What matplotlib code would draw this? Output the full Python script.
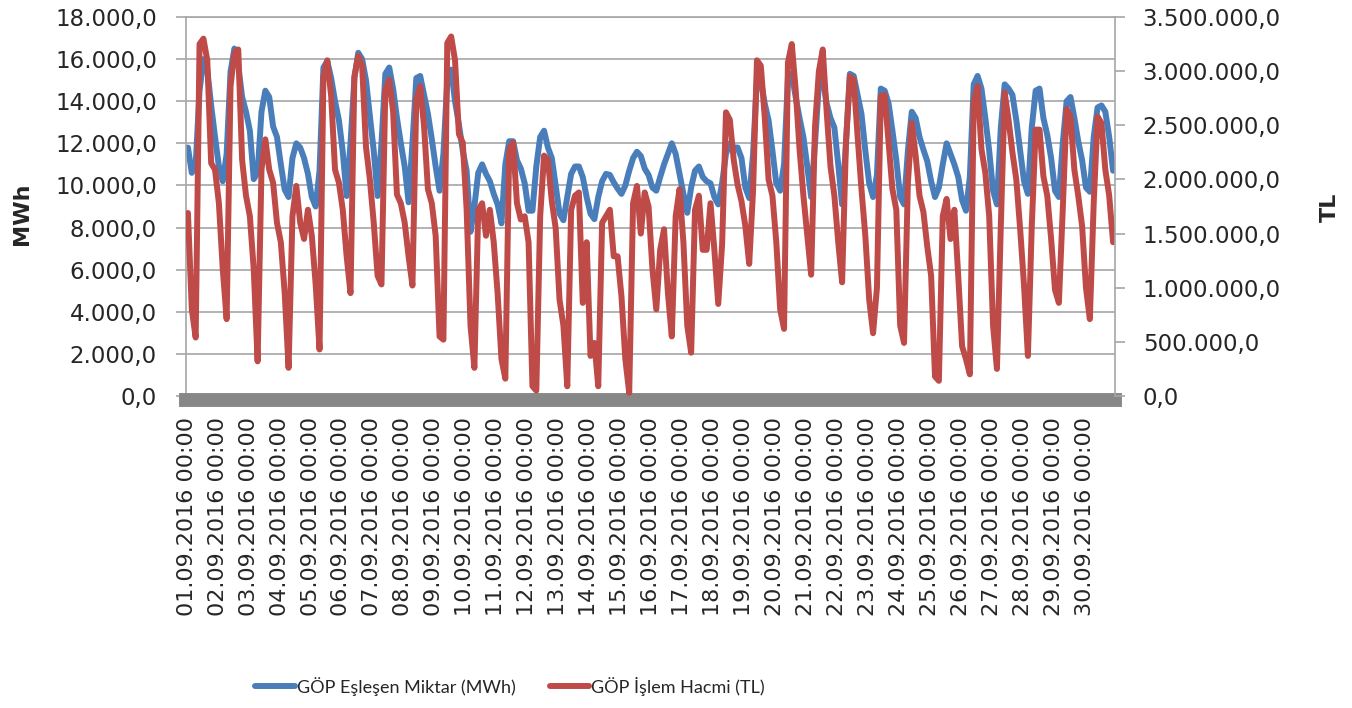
import numpy as np
import matplotlib
matplotlib.use("Agg")
import matplotlib.pyplot as plt
from matplotlib.ticker import FuncFormatter

# =============================================================================
# data (september 2016, every 3rd hour, h = 1,4,...,22)
# =============================================================================
day_labels = ["%02d.09.2016 00:00" % d for d in range(1, 31)]
hours_of_day = [1, 4, 7, 10, 13, 16, 19, 22]

# GÖP Eşleşen Miktar (MWh)
mwh = [
    11800, 10600, 11000, 14500, 16000, 15500, 13800, 12300,   # 01.09
    10900, 10200, 11500, 15400, 16500, 15700, 14200, 13500,   # 02.09
    12600, 10300, 10600, 13500, 14500, 14200, 12800, 12300,   # 03.09
    11000,  9800,  9450, 11300, 12000, 11800, 11300, 10550,   # 04.09
     9450,  9000, 10700, 15600, 15900, 15100, 14000, 13100,   # 05.09
    11600,  9500, 12000, 15100, 16300, 16000, 15000, 13300,   # 06.09
    11650,  9500, 12000, 15300, 15600, 14600, 13200, 12000,   # 07.09
    10900,  9200, 12000, 15100, 15200, 14300, 13400, 12200,   # 08.09
    10900,  9750, 11500, 15000, 15500, 14000, 12900, 11650,   # 09.09
    10700,  7800,  9000, 10600, 11000, 10550, 10200,  9600,   # 10.09
     9100,  8200, 11000, 12100, 12100, 11200, 10800, 10100,   # 11.09
     8800,  8800, 10900, 12300, 12600, 11800, 11300, 10000,   # 12.09
     8660,  8350,  9450, 10550, 10900, 10900, 10400,  9450,   # 13.09
     8660,  8400,  9450, 10200, 10550, 10500, 10150,  9850,   # 14.09
     9600, 10000, 10700, 11300, 11600, 11400, 10800, 10500,   # 15.09
     9900,  9750, 10400, 11000, 11500, 12000, 11500, 10550,   # 16.09
     9600,  8700,  9900, 10700, 10900, 10400, 10200, 10100,   # 17.09
     9450,  9100, 10100, 11500, 12000, 11800, 11800, 11300,   # 18.09
     9900,  9400, 11500, 15100, 15000, 13900, 13100, 11650,   # 19.09
    10100,  9750, 11000, 15100, 15300, 14200, 13200, 12300,   # 20.09
    10900,  9450, 12000, 14800, 15100, 13900, 13200, 12750,   # 21.09
    11000,  9100, 12000, 15300, 15200, 14300, 13400, 11650,   # 22.09
    10100,  9450, 10500, 14600, 14500, 13900, 12600, 11200,   # 23.09
     9450,  9100, 11650, 13500, 13200, 12300, 11700, 11150,   # 24.09
    10200,  9450,  9900, 11000, 12000, 11500, 11000, 10400,   # 25.09
     9300,  8800, 10400, 14800, 15200, 14600, 13200, 11650,   # 26.09
     9750,  9100, 12750, 14800, 14600, 14300, 13100, 11650,   # 27.09
    10200,  9600, 12750, 14500, 14600, 13200, 12400, 11300,   # 28.09
     9750,  9450, 12000, 14000, 14200, 13200, 12100, 11200,   # 29.09
     9900,  9700, 12300, 13700, 13800, 13500, 12300, 10700,   # 30.09
]

# GÖP İşlem Hacmi (TL)
tl = [
    1690e3,  800e3,  540e3, 3250e3, 3300e3, 3100e3, 2150e3, 2090e3,
    1780e3, 1170e3,  710e3, 2860e3, 3170e3, 3200e3, 2180e3, 1850e3,
    1660e3, 1170e3,  320e3, 2090e3, 2370e3, 2090e3, 1970e3, 1600e3,
    1420e3,  950e3,  260e3, 1660e3, 1940e3, 1600e3, 1450e3, 1720e3,
    1480e3, 1030e3,  430e3, 2950e3, 3100e3, 2770e3, 2090e3, 1970e3,
    1720e3, 1290e3,  950e3, 2950e3, 3140e3, 3050e3, 2300e3, 2000e3,
    1600e3, 1110e3, 1030e3, 2830e3, 2920e3, 2630e3, 1860e3, 1780e3,
    1600e3, 1290e3, 1020e3, 2740e3, 2860e3, 2490e3, 1910e3, 1780e3,
    1480e3,  550e3,  520e3, 3260e3, 3320e3, 3100e3, 2420e3, 2340e3,
    1720e3,  650e3,  260e3, 1720e3, 1780e3, 1480e3, 1720e3, 1420e3,
     950e3,  340e3,  160e3, 2280e3, 2340e3, 1780e3, 1630e3, 1660e3,
    1420e3,   90e3,   50e3, 1660e3, 2220e3, 2180e3, 1800e3, 1550e3,
     890e3,  650e3,   90e3, 1720e3, 1850e3, 1880e3,  860e3, 1420e3,
     370e3,  490e3,   90e3, 1600e3, 1660e3, 1720e3, 1290e3, 1290e3,
     920e3,  340e3,   30e3, 1780e3, 1940e3, 1500e3, 1880e3, 1750e3,
    1170e3,  800e3, 1350e3, 1540e3,  950e3,  550e3, 1660e3, 1910e3,
    1420e3,  650e3,  400e3, 1720e3, 1850e3, 1350e3, 1350e3, 1780e3,
    1350e3,  850e3, 1400e3, 2620e3, 2550e3, 2180e3, 1950e3, 1800e3,
    1570e3, 1220e3, 1900e3, 3100e3, 3050e3, 2580e3, 2000e3, 1850e3,
    1420e3,  800e3,  620e3, 3080e3, 3250e3, 2830e3, 2280e3, 1850e3,
    1480e3, 1120e3, 2490e3, 3000e3, 3200e3, 2630e3, 2120e3, 1850e3,
    1420e3, 1050e3, 2340e3, 2950e3, 2920e3, 2400e3, 1910e3, 1480e3,
     890e3,  580e3, 1000e3, 2770e3, 2780e3, 2340e3, 1910e3, 1720e3,
     650e3,  490e3, 1970e3, 2520e3, 2220e3, 1850e3, 1700e3, 1380e3,
    1110e3,  180e3,  140e3, 1660e3, 1820e3, 1450e3, 1720e3, 1110e3,
     460e3,  340e3,  200e3, 2710e3, 2860e3, 2280e3, 2060e3, 1660e3,
     650e3,  250e3, 1570e3, 2800e3, 2550e3, 2250e3, 2000e3, 1540e3,
    1020e3,  370e3, 1570e3, 2460e3, 2460e3, 2030e3, 1850e3, 1450e3,
     980e3,  860e3, 1720e3, 2650e3, 2580e3, 2090e3, 1850e3, 1570e3,
    1000e3,  710e3, 1780e3, 2580e3, 2520e3, 2090e3, 1850e3, 1420e3,
]

# category position of every sample (Excel puts point i in the middle of slot i)
x = [d * 24 + h + 0.5 for d in range(len(day_labels)) for h in hours_of_day]


def tr_fmt(v, pos):
    s = "{:,.1f}".format(v)
    return s.replace(",", "X").replace(".", ",").replace("X", ".")


# =============================================================================
# plot
# =============================================================================
blue = "#4a7ebb"
red = "#be4b48"
grey = "#a6a6a6"
txt = "#262626"

fig = plt.figure(figsize=(13.52, 7.08), dpi=100)
ax1 = fig.add_axes([186 / 1352, 1 - 396 / 708, 929 / 1352, 379 / 708])
ax2 = ax1.twinx()

ax1.plot(x, mwh, color=blue, lw=4.3, solid_joinstyle="round",
         solid_capstyle="round", label="GÖP Eşleşen Miktar (MWh)")
ax2.plot(x, tl, color=red, lw=4.3, solid_joinstyle="round",
         solid_capstyle="round", label="GÖP İşlem Hacmi (TL)")

for ax in (ax1, ax2):
    for s in ax.spines.values():
        s.set_visible(False)
ax1.spines["left"].set_visible(True)
ax1.spines["top"].set_visible(True)
ax2.spines["right"].set_visible(True)
for s in (ax1.spines["left"], ax1.spines["top"], ax2.spines["right"]):
    s.set_color(grey)
    s.set_linewidth(1.2)
# thick dark band under the plot (densely packed category ticks in excel)
ax1.spines["bottom"].set_visible(True)
ax1.spines["bottom"].set_color("#878787")
ax1.spines["bottom"].set_linewidth(10)
ax1.spines["bottom"].set_position(("outward", 3))

ax1.set_xlim(0, 720)
ax1.set_ylim(0, 18000)
ax2.set_ylim(0, 3500000)
ax1.set_yticks(np.arange(0, 18001, 2000))
ax2.set_yticks(np.arange(0, 3500001, 500000))
ax1.yaxis.set_major_formatter(FuncFormatter(tr_fmt))
ax2.yaxis.set_major_formatter(FuncFormatter(tr_fmt))

ax1.set_xticks([d * 24 + 0.5 for d in range(len(day_labels))])
ax1.set_xticklabels(day_labels)

ax1.yaxis.grid(True, color=grey, lw=1.2)
ax1.set_axisbelow(True)

ax1.tick_params(axis="y", length=7, width=1.2, color=grey, pad=14,
                labelcolor=txt, labelsize=16.5)
ax2.tick_params(axis="y", length=7, width=1.2, color=grey, pad=13,
                labelcolor=txt, labelsize=16.5)
ax1.tick_params(axis="x", length=0, pad=12, labelcolor=txt,
                labelsize=16, labelrotation=90)

fig.text(22 / 1352, 1 - 214 / 708, "MWh", rotation=90, ha="center",
         va="center", fontsize=16, fontweight="bold", color=txt)
fig.text(1330 / 1352, 1 - 207 / 708, "TL", rotation=90, ha="center",
         va="center", fontsize=16, fontweight="bold", color=txt)

h1, l1 = ax1.get_legend_handles_labels()
h2, l2 = ax2.get_legend_handles_labels()
leg = fig.legend(h1 + h2, l1 + l2, loc="center",
                 bbox_to_anchor=(510 / 1352, 1 - 686 / 708),
                 ncol=2, frameon=False, handlelength=2.2, handletextpad=0.1,
                 columnspacing=1.9, prop=dict(family="Lato", size=13))
for t in leg.get_texts():
    t.set_color(txt)

plt.savefig("out.png", dpi=100)
